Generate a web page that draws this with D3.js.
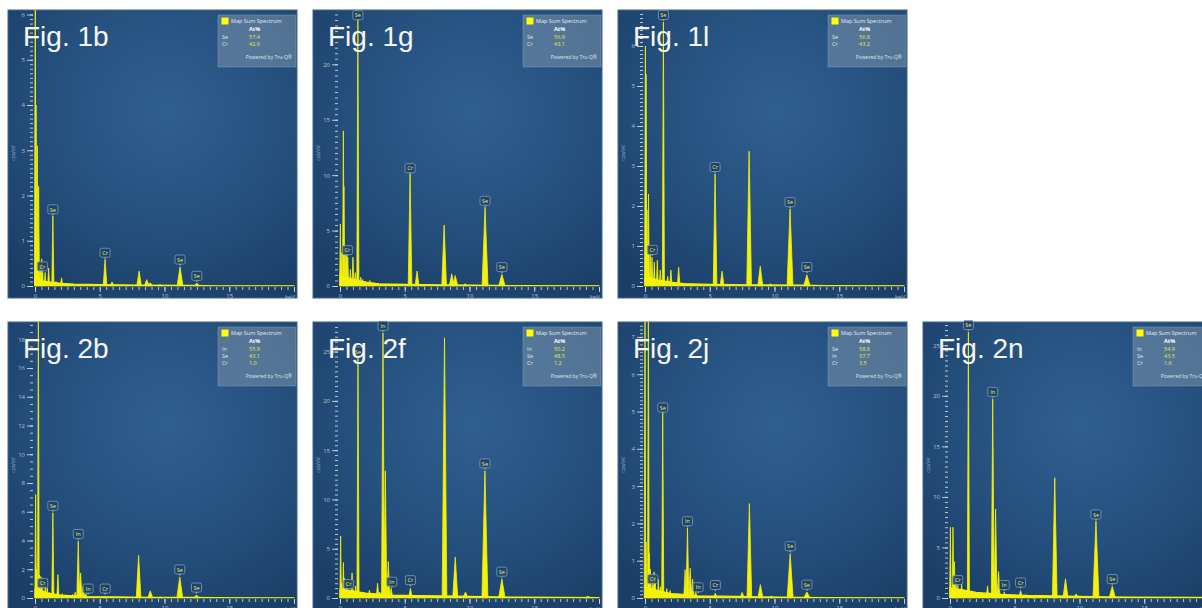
<!DOCTYPE html>
<html>
<head>
<meta charset="utf-8">
<script src="https://cdn.jsdelivr.net/npm/d3@7"></script>
<style>
body { margin: 0; background: #fff; }
svg { display: block; }
</style>
</head>
<body>
<svg id="chart" width="1202" height="608"></svg>
<script>
// Panel names and axis ranges (cps/eV)
var figNames = ["Fig. 1b", "Fig. 1g", "Fig. 1l", "Fig. 2b", "Fig. 2f", "Fig. 2j", "Fig. 2n"];
var yMaxes = [6.1, 24.9, 6.9, 19.2, 28, 7.4, 27.3];
var yMajorSteps = [1, 5, 1, 2, 5, 1, 5];
var yMinorSteps = [0.1, 0.5, 0.1, 0.5, 0.5, 0.1, 0.5];
var xTickValues = [0, 5, 10, 15];

// Peaks: [keV, cps/eV]
var peaks_1b = [[0.02, 7.0], [0.08, 4.0], [0.18, 3.1], [0.28, 2.2], [0.4, 0.5], [0.52, 0.6], [0.57, 0.45],
    [0.78, 0.3], [1.05, 0.4], [1.38, 1.55], [1.62, 0.1], [2.05, 0.18], [2.6, 0.05], [5.41, 0.59], [5.95, 0.09],
    [8.04, 0.33], [8.63, 0.14], [8.9, 0.07], [9.65, 0.03], [11.2, 0.42], [12.5, 0.06]];
var peaks_1g = [[0.03, 5.6], [0.1, 3.0], [0.26, 14.0], [0.3, 9.0], [0.45, 2.8], [0.52, 3.3], [0.6, 2.6],
    [0.8, 1.5], [1.0, 2.6], [1.18, 1.2], [1.38, 24.0], [1.6, 0.8], [1.75, 0.6], [2.0, 0.4], [2.3, 0.5],
    [2.6, 0.3], [5.41, 10.1], [5.95, 1.35], [6.4, 0.15], [8.04, 5.5], [8.63, 1.1], [8.9, 0.95], [9.66, 0.2],
    [11.2, 7.1], [12.5, 1.05]];
var peaks_1l = [[0.03, 6.0], [0.08, 5.3], [0.15, 1.9], [0.27, 2.3], [0.4, 0.8], [0.54, 0.72], [0.72, 0.6],
    [0.95, 0.64], [1.18, 0.4], [1.42, 6.6], [1.75, 0.24], [2.0, 0.4], [2.6, 0.47], [5.41, 2.8], [5.95, 0.37],
    [6.4, 0.05], [8.04, 3.37], [8.9, 0.5], [9.68, 0.05], [11.2, 1.93], [12.5, 0.28]];
var peaks_2b = [[0.05, 7.2], [0.12, 2.0], [0.26, 20], [0.35, 1.6], [0.46, 1.5], [0.57, 0.9], [0.8, 1.0],
    [0.95, 0.7], [1.1, 0.4], [1.38, 5.93], [1.77, 1.63], [2.1, 0.3], [2.5, 0.2], [2.9, 0.25], [3.1, 0.4],
    [3.34, 3.95], [3.52, 1.74], [3.72, 0.8], [3.92, 0.3], [5.42, 0.1], [8.0, 2.97], [8.9, 0.5], [9.67, 0.06],
    [11.18, 1.46], [12.47, 0.2]];
var peaks_2f = [[0.05, 6.3], [0.12, 1.5], [0.26, 3.6], [0.35, 2.0], [0.52, 1.5], [0.67, 0.8], [0.93, 2.55],
    [1.05, 0.8], [1.2, 1.2], [1.39, 24.3], [1.75, 0.5], [2.27, 0.8], [2.6, 0.4], [2.9, 1.5], [3.08, 0.6],
    [3.32, 26.9], [3.5, 12.9], [3.73, 3.7], [3.95, 1.0], [4.3, 0.3], [5.44, 1.0], [6.0, 0.2], [6.5, 0.3],
    [7.5, 0.2], [8.07, 26.4], [8.9, 4.15], [9.69, 0.6], [11.19, 12.9], [12.5, 1.94], [19.15, 0.15]];
var peaks_2j = [[0.0, 8.0], [0.08, 1.5], [0.26, 7.6], [0.33, 1.2], [0.41, 0.77], [0.57, 0.6], [0.7, 0.7],
    [0.78, 0.6], [1.03, 0.5], [1.2, 0.3], [1.37, 4.96], [1.68, 0.25], [1.94, 0.2], [2.3, 0.1], [3.1, 0.76],
    [3.28, 1.88], [3.49, 0.8], [3.68, 0.5], [3.92, 0.15], [5.43, 0.13], [7.5, 0.15], [8.06, 2.53],
    [8.91, 0.36], [9.74, 0.05], [11.21, 1.19], [12.5, 0.16]];
var peaks_2n = [[0.03, 7.0], [0.23, 7.0], [0.34, 3.6], [0.45, 2.0], [0.6, 1.2], [0.9, 1.5], [1.1, 0.8],
    [1.42, 26.3], [1.73, 0.7], [2.2, 0.5], [2.9, 1.2], [3.3, 19.7], [3.52, 8.8], [3.75, 2.6], [4.19, 0.6],
    [5.45, 0.73], [6.5, 0.2], [8.09, 11.9], [8.92, 1.9], [9.74, 0.4], [11.27, 7.6], [12.53, 1.15]];

// Low continuum under the peaks: [keV, cps/eV]
var bg_1b = [[0, 0.3], [0.5, 0.12], [1, 0.09], [2, 0.06], [3, 0.04], [5, 0.03], [8, 0.02], [12, 0.015], [14, 0.005], [20, 0.003]];
var bg_1g = [[0, 1.0], [0.5, 0.8], [1, 0.6], [2, 0.35], [3, 0.2], [5, 0.15], [8, 0.1], [12, 0.06], [14, 0.03], [20, 0.02]];
var bg_1l = [[0, 0.25], [0.5, 0.2], [1, 0.15], [2, 0.1], [3, 0.06], [5, 0.04], [8, 0.03], [12, 0.02], [14, 0.01], [20, 0.005]];
var bg_2b = [[0, 0.6], [0.5, 0.5], [1, 0.35], [2, 0.2], [3, 0.15], [4, 0.1], [6, 0.08], [9, 0.05], [12, 0.04], [14, 0.02], [20, 0.01]];
var bg_2f = [[0, 0.9], [0.5, 0.8], [1, 0.7], [2, 0.5], [3, 0.4], [4, 0.3], [6, 0.25], [9, 0.2], [12, 0.12], [14, 0.08], [20, 0.05]];
var bg_2j = [[0, 0.3], [0.5, 0.25], [1, 0.2], [2, 0.12], [3, 0.1], [4, 0.06], [6, 0.05], [9, 0.03], [12, 0.02], [14, 0.01], [20, 0.005]];
var bg_2n = [[0, 1.0], [0.5, 0.9], [1, 0.8], [2, 0.55], [3, 0.45], [4, 0.35], [6, 0.25], [9, 0.2], [12, 0.12], [14, 0.08], [20, 0.05]];

// Peak labels: [element, keV, cps/eV at the pointer]
var labels_1b = [["Cr", 0.57, 0.28], ["Se", 1.38, 1.54], ["Cr", 5.41, 0.58], ["Se", 11.2, 0.43], ["Se", 12.5, 0.07]];
var labels_1g = [["Cr", 0.57, 2.6], ["Se", 1.38, 23.8], ["Cr", 5.41, 10.0], ["Se", 11.2, 7.06], ["Se", 12.5, 1.07]];
var labels_1l = [["Cr", 0.57, 0.73], ["Se", 1.42, 6.6], ["Cr", 5.41, 2.8], ["Se", 11.2, 1.92], ["Se", 12.5, 0.3]];
var labels_2b = [["Cr", 0.6, 0.55], ["Se", 1.38, 5.93], ["In", 3.34, 3.97], ["In", 4.1, 0.17], ["Cr", 5.42, 0.17], ["Se", 11.18, 1.5], ["Se", 12.47, 0.24]];
var labels_2f = [["Cr", 0.67, 0.7], ["Se", 1.39, 24.3], ["In", 3.32, 26.9], ["In", 4.0, 0.94], ["Cr", 5.44, 1.1], ["Se", 11.19, 12.95], ["Se", 12.5, 1.96]];
var labels_2j = [["Cr", 0.6, 0.32], ["Se", 1.37, 4.92], ["In", 3.28, 1.87], ["In", 4.1, 0.1], ["Cr", 5.43, 0.16], ["Se", 11.21, 1.2], ["Se", 12.5, 0.17]];
var labels_2n = [["Cr", 0.6, 1.08], ["Se", 1.42, 26.3], ["In", 3.3, 19.7], ["In", 4.19, 0.59], ["Cr", 5.45, 0.84], ["Se", 11.27, 7.57], ["Se", 12.53, 1.18]];

// Quant results (At%)
var legend_1b = [["Se", "57.4"], ["Cr", "42.6"]];
var legend_1g = [["Se", "56.9"], ["Cr", "43.1"]];
var legend_1l = [["Se", "56.8"], ["Cr", "43.2"]];
var legend_2b = [["In", "55.9"], ["Se", "43.1"], ["Cr", "1.0"]];
var legend_2f = [["In", "50.2"], ["Se", "48.5"], ["Cr", "1.2"]];
var legend_2j = [["Se", "58.8"], ["In", "37.7"], ["Cr", "3.5"]];
var legend_2n = [["In", "54.9"], ["Se", "43.5"], ["Cr", "1.6"]];

var peakSets = [peaks_1b, peaks_1g, peaks_1l, peaks_2b, peaks_2f, peaks_2j, peaks_2n];
var bgSets = [bg_1b, bg_1g, bg_1l, bg_2b, bg_2f, bg_2j, bg_2n];
var labelSets = [labels_1b, labels_1g, labels_1l, labels_2b, labels_2f, labels_2j, labels_2n];
var legendSets = [legend_1b, legend_1g, legend_1l, legend_2b, legend_2f, legend_2j, legend_2n];

// Layout
var panel_w = 289;
var panel_h = 288;
var plot_left = 27;
var plot_right = 286;
var plot_base = 276;
var yellow = "#f4f10a";
var panelCols = [0, 1, 2, 0, 1, 2, 3];
var panelRows = [0, 0, 0, 1, 1, 1, 1];

var svg = d3.select("#chart");
var defs = svg.append("defs");

var grad = defs.append("radialGradient")
    .attr("id", "bggrad")
    .attr("cx", "0.55").attr("cy", "0.35").attr("r", "0.75");
grad.append("stop").attr("offset", "0%").attr("stop-color", "#2f5f90");
grad.append("stop").attr("offset", "55%").attr("stop-color", "#25507e");
grad.append("stop").attr("offset", "100%").attr("stop-color", "#1b3e67");

figNames.forEach(function(name, i) {
    var left = 8 + panelCols[i] * 305;
    var top = 10 + panelRows[i] * 312;
    renderPanel(svg, i, left, top);
});

// Half of the base width of a peak, widening with energy like a detector line.
function peakHalfWidth(e) {
    return 0.06 + 0.015 * e;
}

function renderPanel(svg, i, left, top) {
    var g = svg.append("g")
        .attr("transform", "translate(" + left + "," + top + ")");

    defs.append("clipPath").attr("id", "clip" + i)
        .append("rect")
        .attr("x", 0).attr("y", 0)
        .attr("width", panel_w).attr("height", plot_base + 0.5);

    var x = d3.scaleLinear().domain([0, 20]).range([plot_left, plot_right]);
    var y = d3.scaleLinear().domain([0, yMaxes[i]]).range([plot_base, 0]);

    // Panel background.
    g.append("rect")
        .attr("width", panel_w)
        .attr("height", panel_h)
        .attr("fill", "url(#bggrad)")
        .attr("stroke", "#3f6690")
        .attr("stroke-width", 1);

    var spec = g.append("g").attr("clip-path", "url(#clip" + i + ")");

    // Continuum.
    var area = d3.area()
        .x(function(d) { return x(d[0]); })
        .y0(y(0))
        .y1(function(d) { return y(d[1]); });
    spec.append("path")
        .datum(bgSets[i])
        .attr("d", area)
        .attr("fill", yellow)
        .attr("stroke", yellow)
        .attr("stroke-width", 1.2);

    // Peaks as narrow spikes.
    spec.selectAll(".peak").data(peakSets[i]).enter().append("path")
        .attr("class", "peak")
        .attr("d", function(d) {
            var w = peakHalfWidth(d[0]);
            return area([[d[0] - w, 0], [d[0], d[1]], [d[0] + w, 0]]);
        })
        .attr("fill", yellow)
        .attr("stroke", yellow)
        .attr("stroke-width", 0.8)
        .attr("stroke-linejoin", "round");

    // y axis.
    var majors = d3.range(0, yMaxes[i] + 1e-9, yMajorSteps[i]);
    var minors = d3.range(0, yMaxes[i], yMinorSteps[i]);
    var yMinorAxis = g.append("g")
        .attr("transform", "translate(25,0)")
        .call(d3.axisLeft(y).tickValues(minors).tickSize(3).tickFormat(""));
    var yAxis = g.append("g")
        .attr("transform", "translate(25,0)")
        .call(d3.axisLeft(y).tickValues(majors).tickSize(6).tickPadding(2).tickFormat(d3.format("d")));

    // x axis.
    var xMinorAxis = g.append("g")
        .attr("transform", "translate(0," + (plot_base + 1) + ")")
        .call(d3.axisBottom(x).tickValues(d3.range(0, 20.01, 0.5)).tickSize(3).tickFormat(""));
    var xAxis = g.append("g")
        .attr("transform", "translate(0," + (plot_base + 1) + ")")
        .call(d3.axisBottom(x).tickValues(xTickValues.concat([20])).tickSize(5).tickPadding(2)
            .tickFormat(function(d) { return d === 20 ? "" : d; }));

    [yMinorAxis, yAxis, xMinorAxis, xAxis].forEach(function(a) {
        a.select(".domain").remove();
        a.selectAll("line").attr("stroke", "#d3dde8").attr("stroke-width", 1).attr("opacity", 0.85);
        a.selectAll("text")
            .attr("fill", "#b4c4d4")
            .style("font-family", "'Open Sans', sans-serif")
            .style("font-size", "6px");
    });

    g.append("text")
        .attr("x", x(20) + 1)
        .attr("y", plot_base + 12.5)
        .attr("text-anchor", "end")
        .attr("fill", "#b4c4d4")
        .style("font-family", "'Open Sans', sans-serif")
        .style("font-size", "6px")
        .text("keV");

    g.append("text")
        .attr("transform", "translate(7,143) rotate(-90)")
        .attr("text-anchor", "middle")
        .attr("fill", "#8ea5bd")
        .style("font-family", "'Open Sans', sans-serif")
        .style("font-size", "5px")
        .text("cps/eV");

    // Peak labels.
    var lab = g.selectAll(".plabel").data(labelSets[i]).enter().append("g")
        .attr("class", "plabel")
        .attr("transform", function(d) { return "translate(" + x(d[1]) + "," + y(d[2]) + ")"; });
    lab.append("path")
        .attr("d", "M-1.5,-2.5L0,-0.5L1.5,-2.5")
        .attr("fill", "#7f9fbf");
    lab.append("rect")
        .attr("x", -5).attr("y", -11.5)
        .attr("width", 10).attr("height", 9)
        .attr("rx", 1.5)
        .attr("fill", "#1f4168")
        .attr("fill-opacity", 0.85)
        .attr("stroke", "#7f9fbf")
        .attr("stroke-width", 0.8);
    lab.append("text")
        .attr("y", -4.8)
        .attr("text-anchor", "middle")
        .attr("fill", "#eef24a")
        .style("font-family", "'Open Sans', sans-serif")
        .style("font-size", "5.5px")
        .text(function(d) { return d[0]; });

    // Legend box.
    var rows = legendSets[i];
    var leg = g.append("g").attr("transform", "translate(210,5)");
    leg.append("rect")
        .attr("width", 78)
        .attr("height", 38 + rows.length * 7)
        .attr("fill", "#7c93ab")
        .attr("fill-opacity", 0.55)
        .attr("stroke", "#9fb3c7")
        .attr("stroke-opacity", 0.6)
        .attr("stroke-width", 0.6);
    leg.append("rect")
        .attr("x", 3.5).attr("y", 2.5)
        .attr("width", 7).attr("height", 7)
        .attr("fill", "#ffff00");
    leg.append("text")
        .attr("x", 13).attr("y", 8.3)
        .attr("fill", "#e6ecf2")
        .style("font-family", "'Open Sans', sans-serif")
        .style("font-size", "5.5px")
        .text("Map Sum Spectrum");
    leg.append("text")
        .attr("x", 31).attr("y", 16)
        .attr("fill", "#ffffff")
        .style("font-family", "'Open Sans', sans-serif")
        .style("font-weight", "bold")
        .style("font-size", "5.5px")
        .text("At%");
    rows.forEach(function(r, k) {
        leg.append("text")
            .attr("x", 4).attr("y", 23.5 + k * 7)
            .attr("fill", "#dfe6ee")
            .style("font-family", "'Open Sans', sans-serif")
            .style("font-size", "5.5px")
            .text(r[0]);
        leg.append("text")
            .attr("x", 31).attr("y", 23.5 + k * 7)
            .attr("fill", "#e2ee3c")
            .style("font-family", "'Open Sans', sans-serif")
            .style("font-size", "5.5px")
            .text(r[1]);
    });
    leg.append("text")
        .attr("x", 74).attr("y", 30 + rows.length * 7)
        .attr("text-anchor", "end")
        .attr("fill", "#dfe6ee")
        .style("font-family", "'Open Sans', sans-serif")
        .style("font-size", "5px")
        .text("Powered by Tru-Q®");

    // Figure label.
    g.append("text")
        .attr("x", 15)
        .attr("y", 36)
        .attr("fill", "#f5f5f5")
        .style("font-family", "'Liberation Sans', Arial, sans-serif")
        .style("font-size", "28px")
        .text(figNames[i]);
}
</script>
</body>
</html>
